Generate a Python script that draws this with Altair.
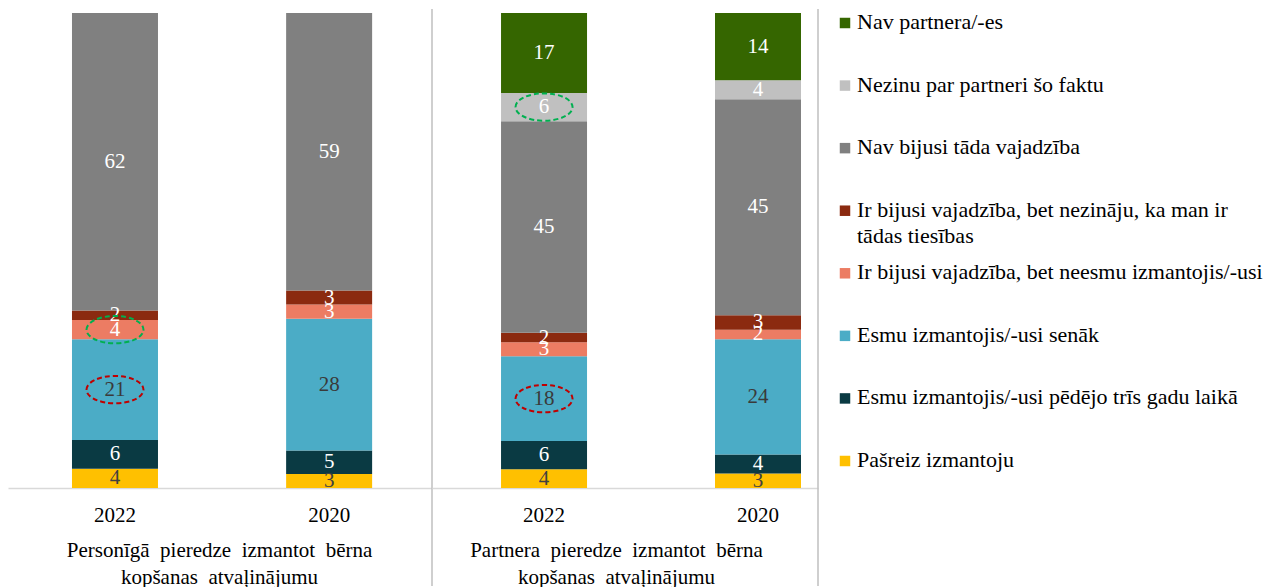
import altair as alt
import pandas as pd

FONT = "Liberation Serif"

# categories, bottom to top of each bar
categories = [
    "Pašreiz izmantoju",
    "Esmu izmantojis/-usi pēdējo trīs gadu laikā",
    "Esmu izmantojis/-usi senāk",
    "Ir bijusi vajadzība, bet neesmu izmantojis/-usi",
    "Ir bijusi vajadzība, bet nezināju, ka man ir tādas tiesības",
    "Nav bijusi tāda vajadzība",
    "Nezinu par partneri šo faktu",
    "Nav partnera/-es",
]
legend_text = [
    "Pašreiz izmantoju",
    "Esmu izmantojis/-usi pēdējo trīs gadu laikā",
    "Esmu izmantojis/-usi senāk",
    "Ir bijusi vajadzība, bet neesmu izmantojis/-usi",
    "Ir bijusi vajadzība, bet nezināju, ka man ir\ntādas tiesības",
    "Nav bijusi tāda vajadzība",
    "Nezinu par partneri šo faktu",
    "Nav partnera/-es",
]
colors = ["#FFC000", "#0A3A43", "#4BACC6", "#EC7C63", "#8B2A10",
          "#808080", "#C0C0C0", "#356600"]
label_colors = ["#404040", "#FFFFFF", "#3A3A3A", "#FFFFFF", "#FFFFFF",
                "#FFFFFF", "#FFFFFF", "#FFFFFF"]

years = ["2022", "2020"]

personal_2022 = [4, 6, 21, 4, 2, 62, None, None]
personal_2020 = [3, 5, 28, 3, 3, 59, None, None]
partner_2022 = [4, 6, 18, 3, 2, 45, 6, 17]
partner_2020 = [3, 4, 24, 2, 3, 45, 4, 14]

# highlighted labels (dashed ellipses): (panel, year, category index, colour)
highlights = [
    ("personal", "2022", 3, "#00B050"),
    ("personal", "2022", 2, "#C00000"),
    ("partner", "2022", 6, "#00B050"),
    ("partner", "2022", 2, "#C00000"),
]

SP = "\u2002"  # justified-looking word gaps
panel_titles = {
    "personal": [SP.join(["Personīgā", "pieredze", "izmantot", "bērna"]),
                 SP.join(["kopšanas", "atvaļinājumu"])],
    "partner": [SP.join(["Partnera", "pieredze", "izmantot", "bērna"]),
                SP.join(["kopšanas", "atvaļinājumu"])],
}


def panel_frame(panel, series):
    rows = []
    for year, vals in series.items():
        for i, v in enumerate(vals):
            if v is None:
                continue
            ring = ""
            for p, y, ci, col in highlights:
                if p == panel and y == year and ci == i:
                    ring = col
            rows.append({"year": year, "cat": categories[i], "order": i,
                         "value": v, "tcolor": label_colors[i], "ring": ring})
    return pd.DataFrame(rows)


color_scale = alt.Scale(domain=categories, range=colors)
ELLIPSE = "M-1,0A1,0.48,0,1,1,1,0A1,0.48,0,1,1,-1,0Z"
H = 475


def make_panel(panel, series, width, pad_outer, align, title_x):
    df = panel_frame(panel, series)
    base = alt.Chart(df).transform_stack(
        stack="value", groupby=["year"], as_=["y0", "y1"], offset="normalize",
        sort=[alt.SortField("order", order="ascending")],
    ).transform_calculate(mid="(datum.y0 + datum.y1) / 2")

    x = alt.X(
        "year:N", sort=years,
        scale=alt.Scale(paddingInner=0.5, paddingOuter=pad_outer, align=align),
        axis=alt.Axis(
            title=panel_titles[panel], titleFont=FONT, titleFontSize=21,
            titleFontWeight="normal", titleColor="#000000", titleLineHeight=27,
            titleX=title_x, titlePadding=14,
            labelFont=FONT, labelFontSize=21, labelColor="#000000",
            labelAngle=0, labelPadding=16, ticks=False, tickSize=0,
            domainColor="#D9D9D9", domainWidth=1.5,
        ),
    )
    yscale = alt.Scale(domain=[0, 1], nice=False, zero=True)

    bars = base.mark_bar(size=86).encode(
        x=x,
        y=alt.Y("y0:Q", scale=yscale, axis=None),
        y2="y1:Q",
        color=alt.Color("cat:N", scale=color_scale, legend=None),
    )
    texts = base.mark_text(font=FONT, fontSize=21, baseline="middle").encode(
        x=x,
        y=alt.Y("mid:Q", scale=yscale, axis=None),
        text=alt.Text("value:Q"),
        color=alt.Color("tcolor:N", scale=None),
    )
    rings = base.transform_filter("datum.ring != ''").mark_point(
        shape=ELLIPSE, size=3249, filled=False, strokeWidth=2,
        strokeDash=[5, 3], opacity=1,
    ).encode(
        x=x,
        y=alt.Y("mid:Q", scale=yscale, axis=None),
        stroke=alt.Stroke("ring:N", scale=None),
    )
    sep = alt.Chart(alt.Data(values=[{"k": 1}])).mark_rule(
        color="#BFBFBF", strokeWidth=1.5
    ).encode(x=alt.value(width), y=alt.value(-4), y2=alt.value(H + 98))
    return alt.layer(bars, texts, rings, sep).properties(width=width, height=H)


p1 = make_panel("personal", {"2022": personal_2022, "2020": personal_2020},
                424, 0.24, 0.52, 211)
p2 = make_panel("partner", {"2022": partner_2022, "2020": partner_2020},
                386, 0.152, 0.9, 184)

# custom legend (top to bottom = reverse stacking order)
leg_df = pd.DataFrame({
    "cat": categories[::-1],
    "label": legend_text[::-1],
    "idx": list(range(len(categories))),
})
leg_y = alt.Y("idx:Q", scale=alt.Scale(domain=[0, 7], range=[10, 448]), axis=None)
leg_base = alt.Chart(leg_df)
leg_sq = leg_base.mark_square(size=110, opacity=1).encode(
    x=alt.value(27), y=leg_y,
    color=alt.Color("cat:N", scale=color_scale, legend=None),
)
leg_tx = leg_base.mark_text(
    font=FONT, fontSize=22, align="left", baseline="top", dy=-11,
    lineBreak="\n", lineHeight=26, color="#000000",
).encode(x=alt.value(39), y=leg_y, text="label:N")
legend = alt.layer(leg_sq, leg_tx).properties(width=450, height=H)

chart = alt.hconcat(p1, p2, legend, spacing=0, bounds="flush").properties(
    padding={"left": 0, "top": 0, "right": 0, "bottom": 0}
).configure_view(stroke=None)

chart.save("out.html", embed_options={"renderer": "svg", "actions": False})
